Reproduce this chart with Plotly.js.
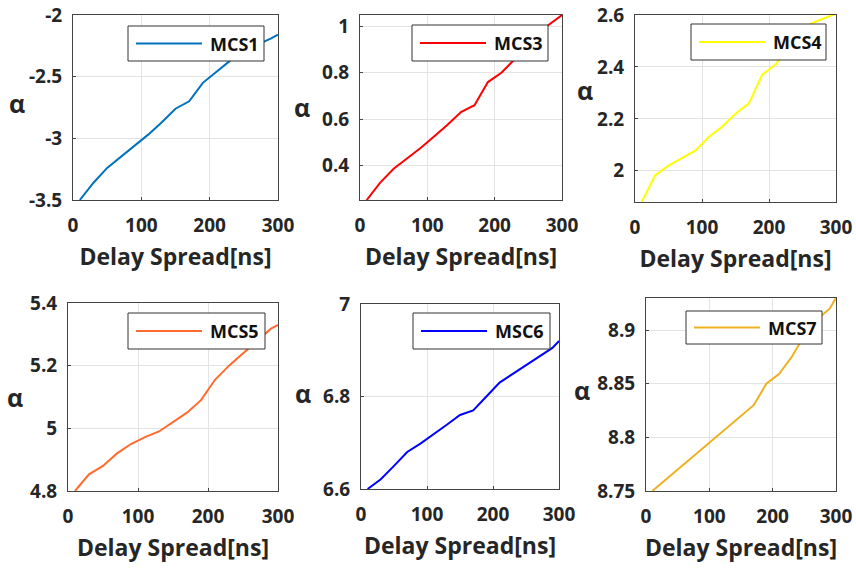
<!DOCTYPE html>
<html><head><meta charset="utf-8">
<script src="https://cdn.plot.ly/plotly-3.0.1.min.js"></script>
<style>html,body{margin:0;padding:0;background:#fff}#chart{width:856px;height:570px}</style>
</head><body><div id="chart"></div>
<script>
const delay = [10, 30, 50, 70, 90, 110, 130, 150, 170, 190, 210, 230, 250, 270, 290, 300];
const mcs1 = [-3.5, -3.36, -3.24, -3.15, -3.06, -2.97, -2.87, -2.76, -2.70, -2.55, -2.46, -2.37, -2.30, -2.24, -2.19, -2.16];
const mcs3 = [0.25, 0.325, 0.385, 0.43, 0.475, 0.525, 0.575, 0.63, 0.66, 0.76, 0.80, 0.86, 0.92, 0.985, 1.03, 1.05];
const mcs4 = [1.88, 1.982, 2.02, 2.05, 2.078, 2.13, 2.17, 2.22, 2.26, 2.37, 2.41, 2.48, 2.55, 2.575, 2.595, 2.605];
const mcs5 = [4.8, 4.853, 4.88, 4.92, 4.95, 4.972, 4.99, 5.02, 5.05, 5.09, 5.155, 5.2, 5.24, 5.28, 5.318, 5.33];
const msc6 = [6.6, 6.621, 6.65, 6.68, 6.698, 6.718, 6.739, 6.76, 6.77, 6.80, 6.83, 6.849, 6.868, 6.886, 6.905, 6.92];
const mcs7 = [8.75, 8.76, 8.77, 8.78, 8.79, 8.80, 8.81, 8.82, 8.83, 8.85, 8.859, 8.875, 8.895, 8.91, 8.92, 8.93];

const names = ['MCS1', 'MCS3', 'MCS4', 'MCS5', 'MSC6', 'MCS7'];
const series = [mcs1, mcs3, mcs4, mcs5, msc6, mcs7];
const colors = ['#0072BD', '#FF0000', '#FFFF00', '#FF6A2E', '#0000FF', '#EDB120'];
const yRanges = [[-3.5, -2], [0.25, 1.05], [1.88, 2.6], [4.8, 5.4], [6.6, 7], [8.75, 8.93]];
const yDticks = [0.5, 0.2, 0.2, 0.2, 0.2, 0.05];
const xTicks = [0, 100, 200, 300];
const y1TickVals = [-3.5, -3, -2.5, -2];
const y1TickText = ['-3.5', '-3', '-2.5', '-2'];
const xTitle = 'Delay Spread[ns]';
const yTitle = 'α';

// layout geometry (pixels) for each panel: [left, right, top, bottom]
const W = 856, H = 570;
const boxes = [[73, 278, 15, 200], [360, 562, 15, 200], [635, 836, 15, 202],
               [68, 278, 303, 491], [361, 559, 304, 489], [646, 836, 298, 491]];
const legendBoxes = [[128, 26, 264, 61], [412, 25, 548, 61], [691, 24, 826, 60],
                     [128, 313, 265, 349], [413, 313, 550, 349], [686, 311, 822, 344]];
const alphaPos = [[17, 103], [302, 107], [585, 90], [15, 397], [303, 393], [582, 390]];

const FAM = 'Open Sans, sans-serif';
const TXT = '#262626';
const traces = [];
const shapes = [];
const annotations = [];
const layout = {
  width: W, height: H, margin: {l: 0, r: 0, t: 0, b: 0},
  paper_bgcolor: '#fff', plot_bgcolor: '#fff', showlegend: false,
  font: {family: FAM, color: TXT, size: 16, weight: 'bold'}
};
const px = v => v / W, py = v => 1 - v / H;
for (let i = 0; i < 6; i++) {
  const n = i + 1;
  const xa = n === 1 ? 'xaxis' : 'xaxis' + n;
  const ya = n === 1 ? 'yaxis' : 'yaxis' + n;
  traces.push({
    x: delay, y: series[i], name: names[i], type: 'scatter', mode: 'lines',
    line: {color: colors[i], width: 2}, xaxis: n === 1 ? 'x' : 'x' + n, yaxis: n === 1 ? 'y' : 'y' + n
  });
  const b = boxes[i];
  layout[xa] = {
    domain: [px(b[0]), px(b[1])], range: [0, 300], tickvals: xTicks,
    showgrid: true, gridcolor: '#e3e3e3', zeroline: false,
    showline: true, mirror: true, linecolor: '#444', linewidth: 1,
    ticks: 'inside', ticklen: 3, tickcolor: '#444',
    tickfont: {size: 19, weight: 'bold', color: TXT}, ticklabelstandoff: 8,
    anchor: n === 1 ? 'y' : 'y' + n,
    title: {text: xTitle, font: {size: 23, weight: 'bold', color: TXT}, standoff: 12}
  };
  layout[ya] = {
    domain: [py(b[3]), py(b[2])], range: yRanges[i], dtick: yDticks[i],
    showgrid: true, gridcolor: '#e3e3e3', zeroline: false,
    showline: true, mirror: true, linecolor: '#444', linewidth: 1,
    ticks: 'inside', ticklen: 3, tickcolor: '#444',
    tickfont: {size: 19, weight: 'bold', color: TXT}, ticklabelstandoff: 6,
    anchor: n === 1 ? 'x' : 'x' + n
  };
  if (i === 0) { layout[ya].tickvals = y1TickVals; layout[ya].ticktext = y1TickText; }
  // legend box (drawn by hand so the sample line matches the long MATLAB sample)
  const L = legendBoxes[i];
  const cy = (L[1] + L[3]) / 2;
  shapes.push({type: 'rect', xref: 'paper', yref: 'paper', x0: px(L[0]), x1: px(L[2]), y0: py(L[3]), y1: py(L[1]),
    line: {color: '#333', width: 1}, fillcolor: '#fff', layer: 'above'});
  shapes.push({type: 'line', xref: 'paper', yref: 'paper', x0: px(L[0] + 8), x1: px(L[0] + 74), y0: py(cy), y1: py(cy),
    line: {color: colors[i], width: 2}, layer: 'above'});
  annotations.push({text: names[i], xref: 'paper', yref: 'paper', x: px(L[0] + 80), y: py(cy),
    xanchor: 'left', yanchor: 'middle', showarrow: false,
    font: {size: 18, weight: 'bold', color: '#111'}});
  annotations.push({
    text: yTitle, xref: 'paper', yref: 'paper', x: px(alphaPos[i][0]), y: py(alphaPos[i][1]),
    xanchor: 'center', yanchor: 'middle', showarrow: false,
    font: {size: 25, weight: 'bold', color: TXT}
  });
}
layout.shapes = shapes;
layout.annotations = annotations;
Plotly.newPlot('chart', traces, layout, {displayModeBar: false, staticPlot: true});
</script></body></html>
